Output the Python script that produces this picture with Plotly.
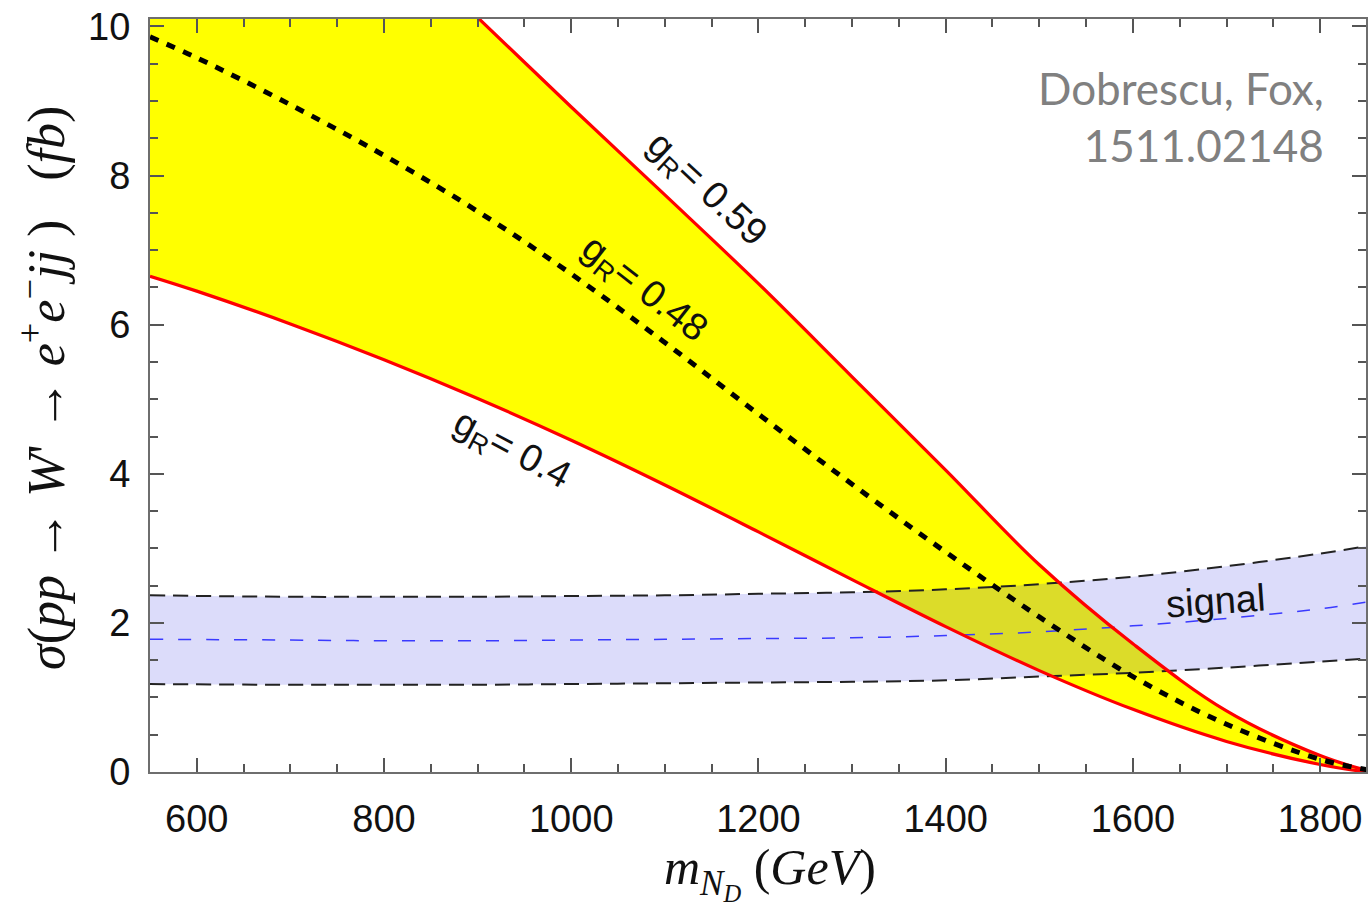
import plotly.graph_objects as go

# ---- data ----
mass = [550, 600, 700, 800, 900, 1000, 1100, 1200, 1300, 1400, 1500, 1600, 1700, 1800, 1850]
sigma_gR_040 = [6.65, 6.45, 6.01, 5.53, 5.01, 4.45, 3.85, 3.22, 2.58, 1.95, 1.36, 0.84, 0.41, 0.10, 0.0]
sigma_gR_048 = [9.86, 9.58, 8.95, 8.27, 7.52, 6.68, 5.76, 4.80, 3.86, 2.95, 2.08, 1.28, 0.64, 0.17, 0.03]
sigma_gR_059 = [14.3, 13.7, 12.5, 11.3, 10.12, 8.92, 7.74, 6.55, 5.30, 4.05, 2.78, 1.72, 0.82, 0.22, 0.02]

sig_mass = [550, 700, 800, 900, 1000, 1100, 1200, 1300, 1400, 1500, 1600, 1700, 1800, 1850]
signal_high = [2.37, 2.35, 2.35, 2.35, 2.36, 2.37, 2.39, 2.41, 2.45, 2.52, 2.62, 2.76, 2.93, 3.03]
signal_mid = [1.78, 1.77, 1.76, 1.76, 1.77, 1.78, 1.79, 1.80, 1.83, 1.88, 1.96, 2.06, 2.19, 2.28]
signal_low = [1.18, 1.17, 1.17, 1.17, 1.18, 1.19, 1.20, 1.21, 1.23, 1.28, 1.33, 1.40, 1.48, 1.52]

x_ticks = [600, 800, 1000, 1200, 1400, 1600, 1800]
y_ticks = [0, 2, 4, 6, 8, 10]

fig = go.Figure()

# yellow band between gR=0.4 and gR=0.59
fig.add_trace(go.Scatter(x=mass, y=sigma_gR_040, mode="lines", line=dict(width=0, shape="spline"),
                         showlegend=False, hoverinfo="skip"))
fig.add_trace(go.Scatter(x=mass, y=sigma_gR_059, mode="lines", line=dict(width=0, shape="spline"),
                         fill="tonexty", fillcolor="#ffff00", showlegend=False, hoverinfo="skip"))

# signal band
fig.add_trace(go.Scatter(x=sig_mass, y=signal_low, mode="lines", line=dict(width=0, shape="spline"),
                         showlegend=False, hoverinfo="skip"))
fig.add_trace(go.Scatter(x=sig_mass, y=signal_high, mode="lines", line=dict(width=0, shape="spline"),
                         fill="tonexty", fillcolor="rgba(60,60,230,0.18)", showlegend=False, hoverinfo="skip"))

fig.add_trace(go.Scatter(x=sig_mass, y=signal_mid, mode="lines",
                         line=dict(color="#3a3aff", width=1.5, dash="13px,15px", shape="spline"),
                         showlegend=False))
for ys in (signal_high, signal_low):
    fig.add_trace(go.Scatter(x=sig_mass, y=ys, mode="lines",
                             line=dict(color="#222222", width=2, dash="15px,8px", shape="spline"),
                             showlegend=False))

# red boundary curves
for ys in (sigma_gR_040, sigma_gR_059):
    fig.add_trace(go.Scatter(x=mass, y=ys, mode="lines",
                             line=dict(color="#ff0000", width=3.2, shape="spline"),
                             showlegend=False))

# central dotted curve
fig.add_trace(go.Scatter(x=mass, y=sigma_gR_048, mode="lines",
                         line=dict(color="#000000", width=5, dash="9px,9px", shape="spline"),
                         showlegend=False))

label_font = dict(family="Liberation Sans, Arial, sans-serif", size=38, color="#111111")
ann = [
    dict(x=1143, y=7.80, text="g<sub>R</sub>= 0.59", textangle=43),
    dict(x=1077, y=6.47, text="g<sub>R</sub>= 0.48", textangle=38),
    dict(x=936, y=4.30, text="g<sub>R</sub>= 0.4", textangle=28),
    dict(x=1688, y=2.30, text="signal", textangle=-4),
]
for a in ann:
    fig.add_annotation(xref="x", yref="y", showarrow=False, font=label_font, **a)

fig.add_annotation(xref="paper", yref="paper", x=0.967, y=0.945, xanchor="right", yanchor="top",
                   align="right", showarrow=False,
                   text="Dobrescu, Fox,<br>1511.02148",
                   font=dict(family="Lato, sans-serif", size=44, color="#808080"))

# axis titles
fig.add_annotation(xref="paper", yref="paper", x=-0.088, y=0.51, xanchor="center", yanchor="middle",
                   textangle=-90, showarrow=False,
                   text="<i>σ</i>(<i>pp</i> → <i>W</i>' → <i>e</i><sup>+</sup><i>e</i><sup>−</sup><i>jj</i> )   (<i>fb</i>)",
                   font=dict(family="Liberation Serif, Times New Roman, serif", size=52, color="#111111"))
fig.add_annotation(xref="paper", yref="paper", x=0.51, y=-0.134, xanchor="center", yanchor="middle",
                   showarrow=False,
                   text="<i>m</i><sub><i>N<sub>D</sub></i></sub> (<i>GeV</i>)",
                   font=dict(family="Liberation Serif, Times New Roman, serif", size=50, color="#111111"))

axis_common = dict(showgrid=False, zeroline=False, showline=True, linecolor="#6e6e6e", linewidth=2,
                   mirror="allticks", ticks="inside", ticklen=14, tickwidth=2, tickcolor="#555555",
                   tickfont=dict(family="Liberation Sans, Arial, sans-serif", size=38, color="#111111"))

fig.update_xaxes(range=[550, 1849], tickvals=x_ticks, ticklabelstandoff=12,
                 minor=dict(dtick=50, ticks="inside", ticklen=8, tickwidth=1.5, tickcolor="#555555"),
                 **axis_common)
fig.update_yaxes(range=[0, 10.1], tickvals=y_ticks, ticklabelstandoff=10,
                 minor=dict(dtick=0.5, ticks="inside", ticklen=8, tickwidth=1.5, tickcolor="#555555"),
                 **axis_common)

fig.update_layout(width=1371, height=908, margin=dict(l=150, r=3, t=19, b=136),
                  paper_bgcolor="white", plot_bgcolor="white", showlegend=False)

fig.write_html("out.html")
